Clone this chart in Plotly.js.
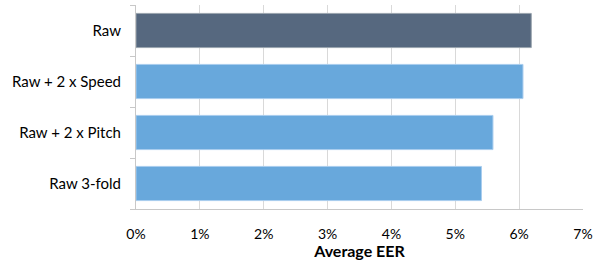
<!DOCTYPE html>
<html>
<head>
<meta charset="utf-8">
<script src="https://cdn.plot.ly/plotly-3.0.1.min.js"></script>
<style>html,body{margin:0;padding:0;background:#fff;}#chart{width:595px;height:260px;}</style>
</head>
<body>
<div id="chart"></div>
<script>
var categories = ["Raw", "Raw + 2 x Speed", "Raw + 2 x Pitch", "Raw 3-fold"];
var eerValues = [0.0619, 0.0606, 0.0559, 0.0541];
var xTickValues = [0, 0.01, 0.02, 0.03, 0.04, 0.05, 0.06, 0.07];
var xTickLabels = ["0%", "1%", "2%", "3%", "4%", "5%", "6%", "7%"];
var barColors = ["#56687f", "#68a8dc", "#68a8dc", "#68a8dc"];
var lineColors = ["#9aa4ae", "#a9cdee", "#a9cdee", "#a9cdee"];

var trace = {
  type: "bar",
  orientation: "h",
  y: categories,
  x: eerValues,
  marker: {color: barColors, line: {color: lineColors, width: 1}},
  hoverinfo: "none"
};

var layout = {
  width: 595, height: 260,
  margin: {l: 136, r: 12, t: 5, b: 51},
  paper_bgcolor: "#ffffff", plot_bgcolor: "#ffffff",
  showlegend: false,
  bargap: 0.33,
  font: {family: "Lato, 'Open Sans', sans-serif", color: "#000"},
  xaxis: {
    range: [0, 0.07],
    tickvals: xTickValues,
    ticktext: xTickLabels,
    showgrid: true, gridcolor: "#d9d9d9", gridwidth: 1,
    zeroline: false,
    showline: true, linecolor: "#c8c8c8", linewidth: 1,
    ticks: "", tickfont: {size: 14, family: "Lato, sans-serif"},
    ticklabelstandoff: 12,
    title: {text: "<b>Average EER</b>", font: {size: 16, family: "Lato, sans-serif"}, standoff: 6}
  },
  yaxis: {
    type: "category",
    categoryorder: "array",
    categoryarray: categories.slice().reverse(),
    showline: true, linecolor: "#c8c8c8", linewidth: 1,
    ticks: "outside", ticklen: 5, tickcolor: "#c8c8c8",
    tickson: "boundaries",
    showgrid: false,
    tickfont: {size: 15, family: "Lato, sans-serif"},
    ticklabelstandoff: 11
  }
};

Plotly.newPlot("chart", [trace], layout, {staticPlot: true, displayModeBar: false});
</script>
</body>
</html>
